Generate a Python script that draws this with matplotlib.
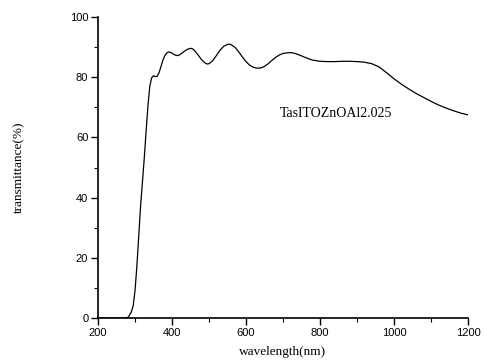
import matplotlib
matplotlib.use("Agg")
import matplotlib.pyplot as plt
from matplotlib.ticker import MultipleLocator

# Optical transmittance spectrum of the TasITOZnOAl2.025 film
wavelength = [200, 250, 275, 282, 290, 295, 300, 305, 310, 315, 320, 325, 330,
              335, 340, 345, 350, 355, 360, 365, 370, 375, 380, 385, 390, 395,
              400, 405, 410, 415, 420, 430, 440, 450, 455, 460, 470, 480, 490,
              495, 500, 510, 520, 530, 540, 550, 555, 560, 570, 580, 590, 600,
              610, 620, 630, 640, 650, 660, 670, 680, 690, 700, 710, 720, 730,
              740, 750, 760, 770, 780, 790, 800, 820, 840, 860, 880, 900, 920,
              940, 960, 980, 1000, 1020, 1040, 1060, 1080, 1100, 1120, 1140,
              1160, 1180, 1200]
transmittance = [0, 0, 0, 0.3, 2, 4, 9, 17, 27, 37, 45, 53, 62,
                 70.5, 77, 79.8, 80.5, 80.2, 80.3, 81.5, 83.5, 85.5, 87, 88, 88.4, 88.3,
                 88, 87.6, 87.3, 87.2, 87.4, 88.3, 89.2, 89.6, 89.5, 89.0, 87.5, 85.8, 84.7,
                 84.4, 84.5, 85.5, 87.2, 89, 90.3, 90.9, 91, 90.8, 90.0, 88.5, 86.8, 85.2,
                 84.0, 83.3, 83.0, 83.1, 83.6, 84.5, 85.6, 86.6, 87.4, 87.9, 88.1, 88.2, 88.0,
                 87.6, 87.1, 86.6, 86.1, 85.7, 85.5, 85.3, 85.2, 85.2, 85.3, 85.3, 85.2, 85.0,
                 84.5, 83.4, 81.5, 79.5, 77.7, 76.1, 74.6, 73.3, 72.0, 70.8, 69.8,
                 68.9, 68.1, 67.5]
sample_name = "TasITOZnOAl2.025"

serif = ["Liberation Serif", "DejaVu Serif"]
sans = ["Liberation Sans", "DejaVu Sans"]

fig = plt.figure(figsize=(4.89, 3.63), dpi=100)
ax = fig.add_axes([0.2004, 0.124, 0.7566, 0.829])

ax.plot(wavelength, transmittance, color="black", lw=0.9)

ax.set_xlim(200, 1200)
ax.set_ylim(0, 100)
ax.xaxis.set_major_locator(MultipleLocator(200))
ax.xaxis.set_minor_locator(MultipleLocator(100))
ax.yaxis.set_major_locator(MultipleLocator(20))
ax.yaxis.set_minor_locator(MultipleLocator(10))

for side in ("top", "right"):
    ax.spines[side].set_visible(False)
for side in ("left", "bottom"):
    ax.spines[side].set_linewidth(1.2)

ax.tick_params(which="major", direction="out", length=5, width=1.0, labelsize=8, pad=2)
ax.tick_params(which="minor", direction="out", length=3, width=0.8)
for lab in ax.get_xticklabels() + ax.get_yticklabels():
    lab.set_family(sans)

ax.set_xlabel("wavelength(nm)", family=serif, fontsize=9.5, labelpad=6)
ax.set_ylabel("transmittance(%)", family=serif, fontsize=9.5, labelpad=32)

ax.text(692, 68.1, sample_name, family=serif, fontsize=10, va="center", ha="left")

fig.savefig("out.png", dpi=100)
